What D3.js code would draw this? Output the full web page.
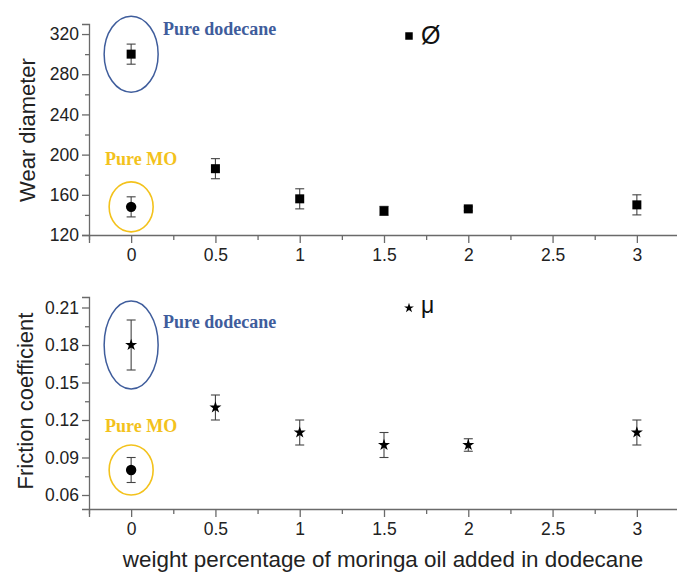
<!DOCTYPE html>
<html>
<head>
<meta charset="utf-8">
<script src="https://cdn.jsdelivr.net/npm/d3@7"></script>
<style>
  body { margin: 0; background: #fff; }
  svg { display: block; }
</style>
</head>
<body>
<svg id="chart" width="677" height="574"></svg>
<script>
// ---------- data ----------
const xValues = [0.5, 1, 1.5, 2, 3];
const wearValues = [186, 156, 144, 146, 150];
const wearErrors = [10, 10, 4.5, 2, 10];
const frictionValues = [0.13, 0.11, 0.10, 0.10, 0.11];
const frictionErrors = [0.01, 0.01, 0.01, 0.005, 0.01];
const pureDodecane = { x: 0, wear: 300, wearErr: 10, friction: 0.18, frictionErr: 0.02 };
const pureMO = { x: 0, wear: 148, wearErr: 10, friction: 0.08, frictionErr: 0.01 };
const xTicks = [0, 0.5, 1, 1.5, 2, 2.5, 3];
const xMinorTicks = [-0.25, 0.25, 0.75, 1.25, 1.75, 2.25, 2.75];
const wearTicks = [120, 160, 200, 240, 280, 320];
const wearMinor = [140, 180, 220, 260, 300];
const frictionTicks = [0.06, 0.09, 0.12, 0.15, 0.18, 0.21];
const frictionMinor = [0.075, 0.105, 0.135, 0.165, 0.195];
const labels = {
  wearY: "Wear diameter",
  frictionY: "Friction coefficient",
  x: "weight percentage of moringa oil added in dodecane",
  dodecane: "Pure dodecane",
  mo: "Pure MO",
  wearLegend: "Ø",
  frictionLegend: "μ"
};

// ---------- setup ----------
const svg = d3.select("#chart");
const axisColor = "#6a6a6a";
const textColor = "#222";
const blue = "#3f5d9c";
const yellow = "#f3c21c";
const sansFont = "'Liberation Sans', Arial, sans-serif";
const serifFont = "'Liberation Serif', 'Times New Roman', serif";

const x = d3.scaleLinear().domain([-0.25, 3.25]).range([89, 679]);

function fmtTrim(d) { return String(+d.toFixed(3)); }

function drawPanel(opts) {
  const y = d3.scaleLinear().domain(opts.yDomain).range([opts.bottom, opts.top]);
  const g = svg.append("g");

  // x axis
  const xAxis = g.append("g").attr("transform", `translate(0,${opts.bottom})`)
    .call(d3.axisBottom(x).tickValues(xTicks).tickSize(8).tickPadding(6).tickFormat(fmtTrim));
  xAxis.select(".domain").attr("stroke", axisColor).attr("stroke-width", 1.3);
  xAxis.selectAll(".tick line").attr("stroke", axisColor).attr("stroke-width", 1.3);
  xAxis.selectAll(".tick text").attr("fill", textColor).style("font-family", sansFont).style("font-size", "17.5px");
  const xMin = g.append("g").attr("transform", `translate(0,${opts.bottom})`)
    .call(d3.axisBottom(x).tickValues(xMinorTicks).tickSize(5).tickFormat(""));
  xMin.select(".domain").remove();
  xMin.selectAll(".tick line").attr("stroke", axisColor).attr("stroke-width", 1.3);

  // y axis
  const yAxis = g.append("g").attr("transform", `translate(89,0)`)
    .call(d3.axisLeft(y).tickValues(opts.yTicks).tickSize(7).tickPadding(3).tickFormat(opts.yFormat));
  yAxis.select(".domain").attr("stroke", axisColor).attr("stroke-width", 1.3);
  yAxis.selectAll(".tick line").attr("stroke", axisColor).attr("stroke-width", 1.3);
  yAxis.selectAll(".tick text").attr("fill", textColor).style("font-family", sansFont).style("font-size", "17.5px");
  const yMin = g.append("g").attr("transform", `translate(89,0)`)
    .call(d3.axisLeft(y).tickValues(opts.yMinor).tickSize(4).tickFormat(""));
  yMin.select(".domain").remove();
  yMin.selectAll(".tick line").attr("stroke", axisColor).attr("stroke-width", 1.3);

  // y label
  g.append("text")
    .attr("transform", `translate(${opts.yLabelX},${opts.yLabelY}) rotate(-90)`)
    .attr("text-anchor", "middle")
    .attr("fill", textColor)
    .style("font-family", sansFont).style("font-size", opts.yLabelSize + "px")
    .text(opts.yLabel);

  // ellipses around pure samples
  g.append("ellipse")
    .attr("cx", x(0)).attr("cy", y(opts.dodecaneVal))
    .attr("rx", 27).attr("ry", opts.blueRy)
    .attr("fill", "none").attr("stroke", blue).attr("stroke-width", 1.5);
  g.append("ellipse")
    .attr("cx", x(0)).attr("cy", y(opts.moVal))
    .attr("rx", 22).attr("ry", 25)
    .attr("fill", "none").attr("stroke", yellow).attr("stroke-width", 1.6);

  g.append("text").attr("x", 163).attr("y", opts.dodecaneTextY)
    .attr("fill", blue).style("font-family", serifFont).style("font-weight", "bold").style("font-size", "18px")
    .text(labels.dodecane);
  g.append("text").attr("x", 105).attr("y", opts.moTextY)
    .attr("fill", yellow).style("font-family", serifFont).style("font-weight", "bold").style("font-size", "18px")
    .text(labels.mo);

  // error bars
  const pts = xValues.map((xv, i) => ({ x: xv, v: opts.values[i], e: opts.errors[i], sym: opts.symbol }));
  pts.push({ x: 0, v: opts.dodecaneVal, e: opts.dodecaneErr, sym: opts.symbol });
  pts.push({ x: 0, v: opts.moVal, e: opts.moErr, sym: d3.symbolCircle, circle: true });

  const eb = g.append("g").attr("stroke", "#444").attr("stroke-width", 1.1);
  pts.forEach(p => {
    const cx = x(p.x), y1 = y(p.v + p.e), y2 = y(p.v - p.e);
    eb.append("line").attr("x1", cx).attr("x2", cx).attr("y1", y1).attr("y2", y2);
    eb.append("line").attr("x1", cx - 4.5).attr("x2", cx + 4.5).attr("y1", y1).attr("y2", y1);
    eb.append("line").attr("x1", cx - 4.5).attr("x2", cx + 4.5).attr("y1", y2).attr("y2", y2);
  });

  g.selectAll("path.pt").data(pts).enter().append("path")
    .attr("class", "pt")
    .attr("transform", p => `translate(${x(p.x)},${y(p.v)})`)
    .attr("d", p => d3.symbol().type(p.sym).size(p.circle ? 85 : opts.symbolSize)())
    .attr("fill", "#000");

  // legend
  g.append("path")
    .attr("transform", `translate(409,${opts.legendY})`)
    .attr("d", d3.symbol().type(opts.symbol).size(opts.legendSymSize)())
    .attr("fill", "#000");
  g.append("text").attr("x", 421).attr("y", opts.legendTextY)
    .attr("fill", "#111").style("font-family", sansFont).style("font-size", opts.legendFont + "px")
    .text(opts.legendText);
}

drawPanel({
  yDomain: [120, 330], top: 24, bottom: 235,
  yTicks: wearTicks, yMinor: wearMinor, yFormat: d3.format("d"),
  yLabel: labels.wearY, yLabelX: 35, yLabelY: 130, yLabelSize: 22,
  values: wearValues, errors: wearErrors,
  dodecaneVal: pureDodecane.wear, dodecaneErr: pureDodecane.wearErr,
  moVal: pureMO.wear, moErr: pureMO.wearErr,
  blueRy: 38, dodecaneTextY: 35, moTextY: 165,
  symbol: d3.symbolSquare, symbolSize: 81, legendSymSize: 56,
  legendY: 36, legendTextY: 44, legendFont: 25, legendText: labels.wearLegend
});

drawPanel({
  yDomain: [0.0488, 0.2184], top: 297, bottom: 509,
  yTicks: frictionTicks, yMinor: frictionMinor, yFormat: d3.format(".2f"),
  yLabel: labels.frictionY, yLabelX: 33, yLabelY: 401, yLabelSize: 22,
  values: frictionValues, errors: frictionErrors,
  dodecaneVal: pureDodecane.friction, dodecaneErr: pureDodecane.frictionErr,
  moVal: pureMO.friction, moErr: pureMO.frictionErr,
  blueRy: 44, dodecaneTextY: 328, moTextY: 432,
  symbol: d3.symbolStar, symbolSize: 45, legendSymSize: 30,
  legendY: 308, legendTextY: 313, legendFont: 23, legendText: labels.frictionLegend
});

// x label
svg.append("text")
  .attr("x", 383).attr("y", 567)
  .attr("text-anchor", "middle")
  .attr("fill", textColor)
  .style("font-family", sansFont).style("font-size", "22.4px")
  .text(labels.x);
</script>
</body>
</html>
